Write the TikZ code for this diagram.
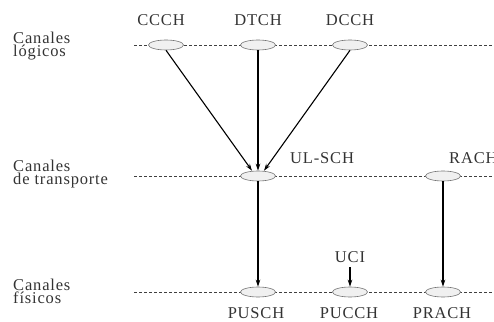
\documentclass[tikz,border=0pt]{standalone}
\usepackage{fontspec}
\setmainfont{Liberation Serif}[LetterSpace=5]
\usetikzlibrary{arrows.meta,shapes.geometric}
\begin{document}
\begin{tikzpicture}[x=1pt,y=1pt,
  lvl/.style={line width=0.8pt,draw=black!75,dash pattern=on 3pt off 2pt},
  chan/.style={ellipse,draw=black!55,fill=black!6,minimum width=35pt,minimum height=10pt,inner sep=0pt,line width=0.6pt},
  lbl/.style={font=\fontsize{16.5}{16.5}\selectfont,text=black!80,inner sep=0pt},
  side/.style={font=\fontsize{16.5}{13}\selectfont,text=black!80,align=left,anchor=north west,inner sep=0pt},
  arr/.style={-{Stealth[length=7pt,width=4.5pt]},line width=1.1pt}]
\useasboundingbox (0,0) rectangle (494,321);
% levels
\coordinate (l1a) at (134,276); \coordinate (l1b) at (494,276);
\coordinate (l2a) at (134,145); \coordinate (l2b) at (494,145);
\coordinate (l3a) at (134,29);  \coordinate (l3b) at (494,29);
\draw[lvl] (l1a) -- (l1b);
\draw[lvl] (l2a) -- (l2b);
\draw[lvl] (l3a) -- (l3b);
% side labels
\node[side] (s1) at (13,289.5) {Canales\\lógicos};
\node[side] (s2) at (13,161) {Canales\\de transporte};
\node[side] (s3) at (13,42) {Canales\\físicos};
% channels
\node[chan] (ccch) at (166,276) {};
\node[chan] (dtch) at (258,276) {};
\node[chan] (dcch) at (350,276) {};
\node[chan] (ulsch) at (258,145) {};
\node[chan] (rach) at (443,145) {};
\node[chan] (pusch) at (258,29) {};
\node[chan] (pucch) at (350,29) {};
\node[chan] (prach) at (443,29) {};
% labels
\node[lbl] (tccch) at (161,300.5) {CCCH};
\node[lbl] (tdtch) at (258,300.5) {DTCH};
\node[lbl] (tdcch) at (350,300.5) {DCCH};
\node[lbl,anchor=west] (tulsch) at (290,163) {UL-SCH};
\node[lbl,anchor=west] (track) at (449,163) {RACH};
\node[lbl] (tpusch) at (256,7.5) {PUSCH};
\node[lbl] (tpucch) at (349,7.5) {PUCCH};
\node[lbl] (tprach) at (442,7.5) {PRACH};
\node[lbl] (uci) at (350,63.5) {UCI};
% arrows
\draw[arr] (ccch.south) -- ([xshift=-6pt]ulsch.north);
\draw[arr] (dtch.south) -- (ulsch.north);
\draw[arr] (dcch.south) -- ([xshift=6pt]ulsch.north);
\draw[arr] (ulsch.south) -- (pusch.north);
\draw[arr] (rach.south) -- (prach.north);
\draw[arr] ([yshift=-4pt]uci.south) -- (pucch.north);
\end{tikzpicture}
\end{document}
